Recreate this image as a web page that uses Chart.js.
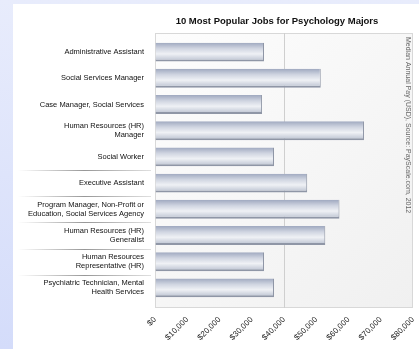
<!DOCTYPE html>
<html>
<head>
<meta charset="utf-8">
<script src="https://cdn.jsdelivr.net/npm/chart.js@4"></script>
<style>
    html, body { margin: 0; padding: 0; }
    body {
        width: 419px; height: 349px; overflow: hidden;
        background: linear-gradient(#e8ecfc, #d4dcfa);
        position: relative;
    }
    #wrap {
        position: absolute; left: 13px; top: 4px;
        width: 406px; height: 345px; background: #fff;
    }
</style>
</head>
<body>
<div id="wrap"><canvas id="jobs" width="406" height="345"></canvas></div>
<script>
const jobs = [
    'Administrative Assistant',
    'Social Services Manager',
    'Case Manager, Social Services',
    ['Human Resources (HR)', 'Manager'],
    'Social Worker',
    'Executive Assistant',
    ['Program Manager, Non-Profit or', 'Education, Social Services Agency'],
    ['Human Resources (HR)', 'Generalist'],
    ['Human Resources', 'Representative (HR)'],
    ['Psychiatric Technician, Mental', 'Health Services']
];
const medianPay = [33800, 51400, 33200, 64800, 36900, 47200, 57200, 52800, 33800, 36900];
const payTicks = [0, 10000, 20000, 30000, 40000, 50000, 60000, 70000, 80000];

Chart.defaults.font.family = 'Arial, "Liberation Sans", sans-serif';
Chart.defaults.color = '#222';

function barFill(ctx) {
    const chart = ctx.chart;
    const y = chart.scales.y;
    if (!y || ctx.dataIndex === undefined) return '#d8dce6';
    const c = y.getPixelForValue(ctx.dataIndex);
    if (!isFinite(c)) return '#d8dce6';
    const g = chart.ctx.createLinearGradient(0, c - 9, 0, c + 9);
    g.addColorStop(0, '#a3acc2');
    g.addColorStop(0.3, '#d0d5e1');
    g.addColorStop(0.6, '#eff1f5');
    g.addColorStop(1, '#bac1d0');
    return g;
}

// plot background, frame and the label separators
const plotFrame = {
    id: 'plotFrame',
    beforeDraw(chart) {
        const { ctx, chartArea: a } = chart;
        const top = a.top - 6, bottom = a.bottom + 7;
        ctx.save();
        const g = ctx.createLinearGradient(a.left, top, a.right, bottom);
        g.addColorStop(0, '#fdfdfd');
        g.addColorStop(1, '#f0f0f0');
        ctx.fillStyle = g;
        ctx.fillRect(a.left, top, a.right - a.left, bottom - top);
        ctx.strokeStyle = '#d8d8d8';
        ctx.lineWidth = 1;
        ctx.strokeRect(a.left + 0.5, top + 0.5, a.right - a.left - 1, bottom - top - 1);
        // extend the middle gridline over the frame padding
        const gx = Math.round(chart.scales.x.getPixelForValue(40000)) + 0.5;
        ctx.strokeStyle = '#cfcfcf';
        ctx.beginPath();
        ctx.moveTo(gx, top); ctx.lineTo(gx, a.top);
        ctx.moveTo(gx, a.bottom); ctx.lineTo(gx, bottom);
        ctx.stroke();
        const y = chart.scales.y;
        for (let i = 4; i < jobs.length - 1; i++) {
            const yy = Math.round((y.getPixelForValue(i) + y.getPixelForValue(i + 1)) / 2) + 0.5;
            const lg = ctx.createLinearGradient(5, 0, a.left - 4, 0);
            lg.addColorStop(0, 'rgba(150,150,150,0)');
            lg.addColorStop(0.5, 'rgba(140,140,140,0.9)');
            lg.addColorStop(1, 'rgba(150,150,150,0.3)');
            ctx.strokeStyle = lg;
            ctx.beginPath();
            ctx.moveTo(5, yy);
            ctx.lineTo(a.left - 4, yy);
            ctx.stroke();
        }
        ctx.restore();
    },
    afterDraw(chart) {
        const { ctx, chartArea: a } = chart;
        ctx.save();
        ctx.fillStyle = '#111';
        ctx.font = 'bold 9.5px Arial, "Liberation Sans", sans-serif';
        ctx.textAlign = 'center';
        ctx.fillText('10 Most Popular Jobs for Psychology Majors', (a.left + a.right) / 2 - 7, 20);
        ctx.translate(a.right - 7, a.top - 2);
        ctx.rotate(Math.PI / 2);
        ctx.fillStyle = '#666';
        ctx.font = '7px Arial, "Liberation Sans", sans-serif';
        ctx.textAlign = 'left';
        ctx.fillText('Median Annual Pay (USD), Source: PayScale.com, 2012', 0, 0);
        ctx.restore();
    }
};

new Chart(document.getElementById('jobs'), {
    type: 'bar',
    data: {
        labels: jobs,
        datasets: [{
            data: medianPay,
            backgroundColor: barFill,
            borderColor: '#8f96a6',
            borderWidth: { top: 0, left: 0, right: 1, bottom: 2 },
            borderSkipped: false,
            barPercentage: 0.72,
            categoryPercentage: 1
        }]
    },
    options: {
        indexAxis: 'y',
        responsive: false,
        animation: false,
        layout: { padding: { top: 35, right: 6, left: 0, bottom: 0 } },
        plugins: {
            legend: { display: false },
            tooltip: { enabled: false }
        },
        scales: {
            x: {
                min: 0,
                max: 80000,
                afterBuildTicks: s => { s.ticks = payTicks.map(v => ({ value: v })); },
                afterFit: s => { s.height = 48; s.paddingRight = 0; s.paddingLeft = 0; },
                border: { display: false },
                grid: {
                    drawTicks: false,
                    color: c => c.tick && c.tick.value === 40000 ? '#cfcfcf' : 'rgba(0,0,0,0)'
                },
                ticks: {
                    minRotation: 45,
                    maxRotation: 45,
                    padding: 14,
                    font: { size: 8 },
                    callback: v => '$' + v.toLocaleString('en-US')
                }
            },
            y: {
                afterFit: s => { s.width = 142; },
                border: { display: false },
                grid: { display: false },
                ticks: {
                    padding: 3,
                    font: { size: 7.5 },
                    color: '#111'
                }
            }
        }
    },
    plugins: [plotFrame]
});
</script>
</body>
</html>
